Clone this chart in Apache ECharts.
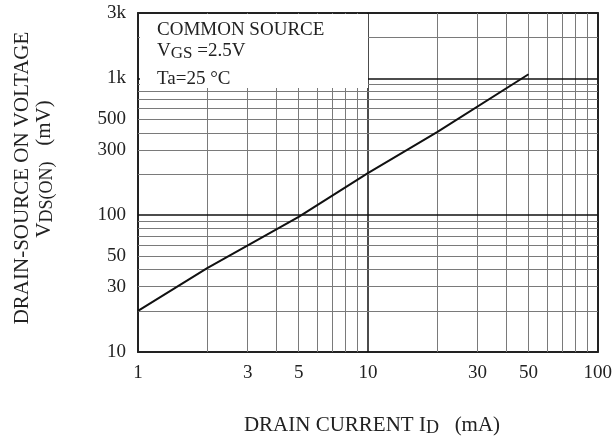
<!DOCTYPE html>
<html>
<head>
<meta charset="utf-8">
<script src="https://cdn.jsdelivr.net/npm/echarts@6/dist/echarts.min.js"></script>
<style>
html,body{margin:0;padding:0;background:#fff;}
#c{width:615px;height:441px;}
</style>
</head>
<body>
<div id="c"></div>
<script>
// ---- data ----
var currentMA = [1, 2, 5, 10, 20, 50];
var vdsOnMV = [20, 41, 97, 203, 404, 1070];
var xTickLabels = [1, 3, 5, 10, 30, 50, 100];
var yTickLabels = [10, 30, 50, 100, 300, 500, 1000, 3000];
var xGridMajor = [10];
var xGridMinor = [2, 3, 4, 5, 6, 7, 8, 9, 20, 30, 40, 50, 60, 70, 80, 90];
var yGridMajor = [100, 1000];
var yGridMinor = [20, 30, 40, 50, 60, 70, 80, 90, 200, 300, 400, 500, 600, 700, 800, 900, 2000];

var FONT = '"Liberation Serif", "DejaVu Serif", serif';
var chart = echarts.init(document.getElementById('c'), null, {renderer: 'canvas'});

var gridLines = [];
xGridMinor.forEach(function (v) { gridLines.push({xAxis: v, lineStyle: {color: '#7a7a7a', width: 1, type: 'solid'}}); });
xGridMajor.forEach(function (v) { gridLines.push({xAxis: v, lineStyle: {color: '#111', width: 1.5, type: 'solid'}}); });
yGridMinor.forEach(function (v) { gridLines.push({yAxis: v, lineStyle: {color: '#7a7a7a', width: 1, type: 'solid'}}); });
yGridMajor.forEach(function (v) { gridLines.push({yAxis: v, lineStyle: {color: '#111', width: 1.5, type: 'solid'}}); });

var data = currentMA.map(function (x, i) { return [x, vdsOnMV[i]]; });

var sub = function (s) { return '{s|' + s + '}'; };
var richTitle = {
  n: {fontFamily: FONT, fontSize: 21, lineHeight: 24, verticalAlign: 'middle', fill: '#222'},
  s: {fontFamily: FONT, fontSize: 18, lineHeight: 14, verticalAlign: 'bottom', fill: '#222'}
};
var richLegend = {
  n: {fontFamily: FONT, fontSize: 19, lineHeight: 22, verticalAlign: 'middle', fill: '#222'},
  s: {fontFamily: FONT, fontSize: 17, lineHeight: 12, verticalAlign: 'bottom', fill: '#222'}
};
var frameLine = {show: true, lineStyle: {color: '#222', width: 2}};

chart.setOption({
  animation: false,
  backgroundColor: '#fff',
  textStyle: {fontFamily: FONT},
  grid: {left: 138, right: 15, top: 13, bottom: 89},
  xAxis: [{
    type: 'log', logBase: 10, min: 1, max: 100, position: 'bottom',
    axisLine: frameLine, axisTick: {show: false}, splitLine: {show: false},
    axisLabel: {customValues: xTickLabels, fontFamily: FONT, fontSize: 19, color: '#222', margin: 12}
  }, {
    type: 'log', logBase: 10, min: 1, max: 100, position: 'top',
    axisLine: frameLine, axisTick: {show: false}, splitLine: {show: false}, axisLabel: {show: false}
  }],
  yAxis: [{
    type: 'log', logBase: 10, min: 10, max: 3000, position: 'left',
    axisLine: frameLine, axisTick: {show: false}, splitLine: {show: false},
    axisLabel: {
      customValues: yTickLabels, fontFamily: FONT, fontSize: 19, color: '#222', margin: 12,
      formatter: function (v) { return v >= 1000 ? (v / 1000) + 'k' : String(v); }
    }
  }, {
    type: 'log', logBase: 10, min: 10, max: 3000, position: 'right',
    axisLine: frameLine, axisTick: {show: false}, splitLine: {show: false}, axisLabel: {show: false}
  }],
  series: [
    {
      type: 'line', data: [], z: 1, silent: true,
      markLine: {silent: true, symbol: ['none', 'none'], label: {show: false}, animation: false, data: gridLines}
    },
    {
      type: 'line', data: data, z: 5, showSymbol: false, symbol: 'none', smooth: false,
      lineStyle: {color: '#111', width: 2}
    }
  ],
  graphic: [
    {type: 'rect', z: 100, shape: {x: 140, y: 14, width: 228, height: 74}, style: {fill: '#fff'}, silent: true},
    {type: 'text', z: 101, x: 157, y: 30, style: {text: 'COMMON SOURCE', font: '19px ' + FONT, fill: '#222', verticalAlign: 'middle'}},
    {type: 'text', z: 101, x: 157, y: 51, style: {
      text: '{n|V}' + sub('GS') + '{n| =2.5V}', fill: '#222', verticalAlign: 'middle', rich: richLegend
    }},
    {type: 'text', z: 101, x: 157, y: 79, style: {text: 'Ta=25 \u00b0C', font: '19px ' + FONT, fill: '#222', verticalAlign: 'middle'}},
    {type: 'text', z: 101, x: 372, y: 425, style: {
      text: '{n|DRAIN CURRENT I}' + sub('D') + '{n|   (mA)}', fill: '#222', align: 'center', verticalAlign: 'middle', rich: richTitle
    }},
    {type: 'text', z: 101, x: 22, y: 178, rotation: Math.PI / 2, style: {
      text: 'DRAIN-SOURCE ON VOLTAGE', font: '21px ' + FONT, fill: '#222', align: 'center', verticalAlign: 'middle'
    }},
    {type: 'text', z: 101, x: 44, y: 169, rotation: Math.PI / 2, style: {
      text: '{n|V}' + sub('DS(ON)') + '{n|   (mV)}', fill: '#222', align: 'center', verticalAlign: 'middle', rich: richTitle
    }}
  ]
});
</script>
</body>
</html>
